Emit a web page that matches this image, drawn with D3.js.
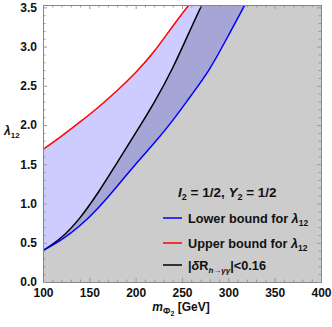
<!DOCTYPE html>
<html>
<head>
<meta charset="utf-8">
<script src="https://cdn.jsdelivr.net/npm/d3@7"></script>
<style>
  body { margin: 0; background: #fff; }
  text { font-family: "Liberation Sans", Arial, sans-serif; }
  .tick text { font-weight: bold; font-size: 12px; fill: #111; }
</style>
</head>
<body>
<div id="chart"></div>
<script>
// values
const lowerMass = [100, 120, 140, 160, 180, 200, 220, 240, 260, 280, 300, 320];
const lowerBound = [0.40, 0.54, 0.72, 0.95, 1.22, 1.50, 1.77, 2.06, 2.38, 2.72, 3.14, 3.58];

const upperMass = [100, 120, 140, 160, 180, 200, 220, 240, 260];
const upperBound = [1.69, 1.86, 2.04, 2.23, 2.44, 2.67, 2.94, 3.26, 3.57];

const rMass = [100, 120, 140, 160, 180, 200, 220, 240, 260, 275];
const rBound = [0.40, 0.57, 0.82, 1.15, 1.52, 1.90, 2.29, 2.73, 3.24, 3.62];

const xTicks = [100, 150, 200, 250, 300, 350, 400];
const yTicks = [0.0, 0.5, 1.0, 1.5, 2.0, 2.5, 3.0, 3.5];

const width = 332, height = 327;
const margin = { top: 5, right: 11, bottom: 45, left: 43 };
const w = width - margin.left - margin.right;
const h = height - margin.top - margin.bottom;

const svg = d3.select('#chart').append('svg')
  .attr('width', width).attr('height', height);

const x = d3.scaleLinear().domain([100, 400]).range([0, w]);
const y = d3.scaleLinear().domain([0, 3.53]).range([h, 0]);

const g = svg.append('g').attr('transform', `translate(${margin.left},${margin.top})`);

svg.append('defs').append('clipPath').attr('id', 'plot-clip')
  .append('rect').attr('width', w).attr('height', h);

const plot = g.append('g').attr('clip-path', 'url(#plot-clip)');

const zip = (xs, ys) => xs.map((m, i) => [m, ys[i]]);
const lowerPts = zip(lowerMass, lowerBound);
const upperPts = zip(upperMass, upperBound);
const rPts = zip(rMass, rBound);

const curve = d3.curveNatural;
const toTop = d3.area().curve(curve)
  .x(d => x(d[0])).y0(d => y(d[1])).y1(0);
const line = d3.line().curve(curve).x(d => x(d[0])).y(d => y(d[1]));

// background (excluded region)
plot.append('rect').attr('width', w).attr('height', h).attr('fill', '#cccccc');
// overlap between lower bound and the R constraint
plot.append('path').attr('d', toTop(lowerPts)).attr('fill', '#a6a6d6');
// allowed by bounds
plot.append('path').attr('d', toTop(rPts)).attr('fill', '#ccccff');
// above upper bound
plot.append('path').attr('d', toTop(upperPts)).attr('fill', '#ffffff');

plot.append('path').attr('d', line(upperPts)).attr('fill', 'none')
  .attr('stroke', '#ff0000').attr('stroke-width', 1.5);
plot.append('path').attr('d', line(rPts)).attr('fill', 'none')
  .attr('stroke', '#000000').attr('stroke-width', 1.5);
plot.append('path').attr('d', line(lowerPts)).attr('fill', 'none')
  .attr('stroke', '#0000ff').attr('stroke-width', 1.5);

// frame with inward ticks
const xMinor = d3.range(100, 401, 10).filter(v => v % 50 !== 0);
const yMinor = d3.range(0, 36).map(v => v / 10).filter(v => Math.round(v * 10) % 5 !== 0);

function frameAxis(axisFn, scale, major, minor, transform, labels) {
  const a = g.append('g').attr('transform', transform);
  a.call(axisFn(scale).tickValues(minor).tickSize(-2.5).tickFormat(''));
  const b = g.append('g').attr('transform', transform);
  const ax = axisFn(scale).tickValues(major).tickSize(-4).tickPadding(6);
  if (labels) ax.tickFormat(labels); else ax.tickFormat('');
  b.call(ax);
  [a, b].forEach(s => {
    s.select('.domain').attr('stroke', '#888');
    s.selectAll('.tick line').attr('stroke', '#999');
  });
  return b;
}

frameAxis(d3.axisBottom, x, xTicks, xMinor, `translate(0,${h})`, d3.format('d'));
frameAxis(d3.axisTop, x, xTicks, xMinor, 'translate(0,0)', null);
frameAxis(d3.axisLeft, y, yTicks, yMinor, 'translate(0,0)', d3.format('.1f'));
frameAxis(d3.axisRight, y, yTicks, yMinor, `translate(${w},0)`, null);

// axis labels
const xl = svg.append('text').attr('x', 181).attr('y', 311)
  .attr('text-anchor', 'middle').attr('font-size', 12).attr('font-weight', 'bold').attr('fill', '#111');
xl.append('tspan').attr('font-style', 'italic').text('m');
xl.append('tspan').attr('font-size', 9).attr('dy', 3).text('Φ');
xl.append('tspan').attr('font-size', 7).attr('dy', 2).text('2');
xl.append('tspan').attr('dy', -5).text(' [GeV]');

const yl = svg.append('text').attr('x', 4).attr('y', 135)
  .attr('font-size', 12).attr('font-weight', 'bold').attr('fill', '#111');
yl.append('tspan').attr('font-style', 'italic').text('λ');
yl.append('tspan').attr('font-size', 8).attr('dy', 3).text('12');

// legend
const title = svg.append('text').attr('x', 178).attr('y', 197)
  .attr('font-size', 13.5).attr('font-weight', 'bold').attr('fill', '#111');
title.append('tspan').attr('font-style', 'italic').text('I');
title.append('tspan').attr('font-size', 9).attr('dy', 3).text('2');
title.append('tspan').attr('dy', -3).text(' = 1/2,  ');
title.append('tspan').attr('font-style', 'italic').text('Y');
title.append('tspan').attr('font-size', 9).attr('dy', 3).text('2');
title.append('tspan').attr('dy', -3).text(' = 1/2');

const legendRows = [
  { color: '#0000ff', y: 218, label: 'Lower bound for ' },
  { color: '#ff0000', y: 243, label: 'Upper bound for ' },
  { color: '#000000', y: 265, label: null }
];
legendRows.forEach(r => {
  svg.append('line').attr('x1', 163).attr('x2', 182).attr('y1', r.y).attr('y2', r.y)
    .attr('stroke', r.color).attr('stroke-width', 1.5);
  const t = svg.append('text').attr('x', 188).attr('y', r.y + 4.5)
    .attr('font-size', 12.7).attr('font-weight', 'bold').attr('fill', '#111');
  if (r.label) {
    t.append('tspan').text(r.label);
    t.append('tspan').attr('font-style', 'italic').text('λ');
    t.append('tspan').attr('font-size', 8.5).attr('dy', 3).text('12');
  } else {
    t.append('tspan').text('|');
    t.append('tspan').attr('font-style', 'italic').text('δ');
    t.append('tspan').text('R');
    t.append('tspan').attr('font-size', 8).attr('font-style', 'italic').attr('dy', 3).text('h→γγ');
    t.append('tspan').attr('dy', -3).text('|<0.16');
  }
});
</script>
</body>
</html>
